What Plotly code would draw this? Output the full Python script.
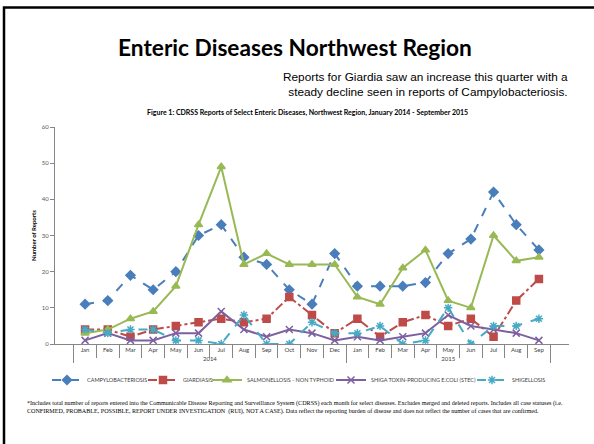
import plotly.graph_objects as go

years = ["2014"] * 12 + ["2015"] * 9
months = ["Jan", "Feb", "Mar", "Apr", "May", "Jun", "Jul", "Aug", "Sep", "Oct", "Nov", "Dec",
          "Jan", "Feb", "Mar", "Apr", "May", "Jun", "Jul", "Aug", "Sep"]

campylobacteriosis = [11, 12, 19, 15, 20, 30, 33, 24, 22, 15, 11, 25, 16, 16, 16, 17, 25, 29, 42, 33, 26]
giardiasis = [4, 4, 2, 4, 5, 6, 7, 6, 7, 13, 8, 3, 7, 2, 6, 8, 5, 7, 2, 12, 18]
salmonellosis = [3, 4, 7, 9, 16, 33, 49, 22, 25, 22, 22, 22, 13, 11, 21, 26, 12, 10, 30, 23, 24]
stec = [1, 3, 1, 1, 3, 3, 9, 4, 2, 4, 3, 1, 2, 1, 2, 3, 8, 5, 4, 3, 1]
shigellosis = [4, 3, 4, 4, 1, 1, 0, 8, 0, 0, 6, 3, 3, 5, 0, 1, 10, 0, 5, 5, 7]

series_names = ["CAMPYLOBACTERIOSIS", "GIARDIASIS", "SALMONELLOSIS - NON TYPHOID",
                "SHIGA TOXIN-PRODUCING E.COLI (STEC)", "SHIGELLOSIS"]
y_ticks = [0, 10, 20, 30, 40, 50, 60]

W, H = 594, 444
L, R, T, B = 55, 25, 127, 100
PW, PH = W - L - R, H - T - B


def px(x):
    return (x - L) / PW


def py(y):
    return (H - B - y) / PH


x = [years, months]
styles = [
    (campylobacteriosis, "#4A7EBB", "dash", "diamond", 7),
    (giardiasis, "#BE4B48", "dashdot", "square", 7),
    (salmonellosis, "#98B954", "solid", "triangle-up", 7),
    (stec, "#7D60A0", "solid", "x-thin-open", 7),
    (shigellosis, "#46AAC5", "dash", "asterisk-open", 7),
]
legend_keys = ["legend", "legend2", "legend3", "legend4", "legend5"]
legend_text_x = [85, 181, 245, 369, 510]

fig = go.Figure()
for name, (vals, col, dash, sym, ms), lk in zip(series_names, styles, legend_keys):
    fig.add_trace(go.Scatter(
        x=x, y=vals, name=name, mode="lines+markers", legend=lk,
        line=dict(color=col, width=2, dash=dash),
        marker=dict(symbol=sym, size=ms, color=col, line=dict(color=col, width=1.5)),
    ))

font_c = "Lato, Carlito, 'Open Sans', sans-serif"

fig.update_layout(
    width=W, height=H,
    margin=dict(l=L, r=R, t=T, b=B, pad=0, autoexpand=False),
    paper_bgcolor="white", plot_bgcolor="white",
    font=dict(family=font_c, size=6, color="#404040"),
    showlegend=True,
    xaxis=dict(type="multicategory", showline=True, linecolor="#868686", linewidth=1,
               ticks="outside", tickson="boundaries", ticklen=13, tickcolor="#868686",
               showdividers=True, dividercolor="#868686", dividerwidth=1,
               tickfont=dict(size=6, color="#404040"), showgrid=False, zeroline=False),
    yaxis=dict(range=[0, 60], tickvals=y_ticks, showline=True, linecolor="#868686", linewidth=1,
               ticks="outside", ticklen=4, tickcolor="#868686", showgrid=False, zeroline=False,
               tickfont=dict(size=6, color="#595959"),
               title=dict(text="<b>Number of Reports</b>", font=dict(size=6, color="#000000"),
                          standoff=4)),
)
for lk, tx in zip(legend_keys, legend_text_x):
    fig.update_layout({lk: dict(orientation="h", x=px(tx - 38), xanchor="left", y=py(380),
                                yanchor="middle", font=dict(size=5.5, color="#404040"),
                                itemwidth=30, bgcolor="rgba(0,0,0,0)")})

annotations = [
    dict(text="<b>Enteric Diseases Northwest Region</b>", x=px(295), y=py(47),
         font=dict(size=22.7, family=font_c, color="#000000")),
    dict(text="Reports for Giardia saw an increase this quarter with a<br>steady decline seen in reports of Campylobacteriosis.",
         x=px(570), y=py(84), xanchor="right", align="right",
         font=dict(size=11.8, family="'Liberation Sans', Arial, sans-serif", color="#000000")),
    dict(text="<b>Figure 1: CDRSS Reports of Select Enteric Diseases, Northwest Region, January 2014 - September 2015</b>",
         x=px(307), y=py(112), font=dict(size=7.0, family=font_c, color="#000000")),
    dict(text="*Includes total number of reports entered into the Communicable Disease Reporting and Surveillance System (CDRSS) each month for select diseases. Excludes merged and deleted reports. Includes all case statuses (i.e.<br>CONFIRMED, PROBABLE, POSSIBLE, REPORT UNDER INVESTIGATION  (RUI), NOT A CASE). Data reflect the reporting burden of disease and does not reflect the number of cases that are confirmed.",
         x=px(25), y=py(407.5), xanchor="left", align="left",
         font=dict(size=6.1, family="'Liberation Serif', 'Times New Roman', serif", color="#000000")),
]
for a in annotations:
    a.update(xref="paper", yref="paper", showarrow=False, yanchor="middle")
    a.setdefault("xanchor", "center")
fig.update_layout(annotations=annotations)

fig.add_shape(type="rect", xref="paper", yref="paper",
              x0=px(4), x1=px(620), y0=py(7.5), y1=py(470),
              line=dict(color="#000000", width=2.5), fillcolor="rgba(0,0,0,0)", layer="above")

fig.write_html("out.html", config={"displayModeBar": False},
               post_script="document.body.style.margin='0';document.body.style.overflow='hidden';")
